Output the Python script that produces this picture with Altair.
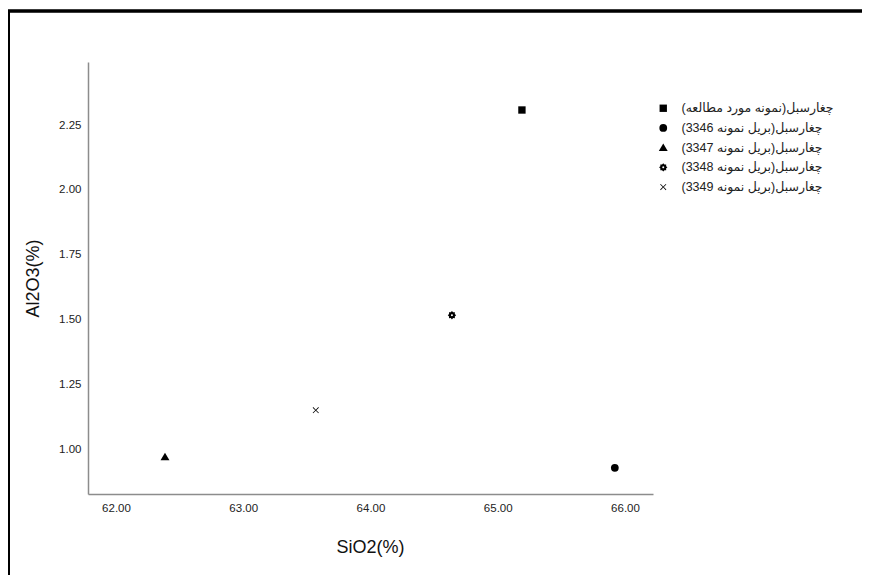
import math
import altair as alt
import pandas as pd

categories = [
    "چغارسبل(نمونه مورد مطالعه)",
    "چغارسبل(بریل نمونه 3346)",
    "چغارسبل(بریل نمونه 3347)",
    "چغارسبل(بریل نمونه 3348)",
    "چغارسبل(بریل نمونه 3349)",
]
sio2 = [65.19, 65.92, 62.385, 64.64, 63.57]
al2o3 = [2.308, 0.929, 0.971, 1.517, 1.151]

x_ticks = [62, 63, 64, 65, 66]
y_ticks = [1.00, 1.25, 1.50, 1.75, 2.00, 2.25]

df = pd.DataFrame({"cat": categories, "SiO2": sio2, "Al2O3": al2o3})

# marker shapes (unit box -1..1)
pts = []
for k in range(16):
    r = 1.08 if k % 2 == 0 else 0.8
    a = k * math.pi / 8
    pts.append((r * math.cos(a), r * math.sin(a)))
gear = "M" + "L".join(f"{x:.3f},{y:.3f}" for x, y in pts) + "Z"
inner = []
for k in range(12):
    a = -k * math.pi / 6
    inner.append((0.26 * math.cos(a), 0.26 * math.sin(a)))
gear += "M" + "L".join(f"{x:.3f},{y:.3f}" for x, y in inner) + "Z"
xshape = ("M-0.8,-0.66L-0.66,-0.8L0,-0.14L0.66,-0.8L0.8,-0.66L0.14,0L0.8,0.66L0.66,0.8"
          "L0,0.14L-0.66,0.8L-0.8,0.66L-0.14,0Z")
square = "M-0.95,-0.95L0.95,-0.95L0.95,0.95L-0.95,0.95Z"
tri = "M0,-1.1L1.15,0.85L-1.15,0.85Z"
shapes = [square, "circle", tri, gear, xshape]

font = "Liberation Sans, Arial, DejaVu Sans, sans-serif"

points = alt.Chart(df).mark_point(filled=True, opacity=1, color="black", size=60).encode(
    x=alt.X("SiO2:Q",
            scale=alt.Scale(domain=[61.78, 66.22], nice=False, zero=False),
            axis=alt.Axis(values=x_ticks, format=".2f", title="SiO2(%)",
                          grid=False, ticks=False, domainColor="#8c8c8c",
                          domainWidth=1.5, labelFont=font, labelFontSize=11.5,
                          labelColor="#222222", labelPadding=8,
                          titleFont=font, titleFontSize=18, titleFontWeight="normal",
                          titleColor="#111111", titleX=282, titleY=53,
                          titleBaseline="middle", titleAlign="center")),
    y=alt.Y("Al2O3:Q",
            scale=alt.Scale(domain=[0.828, 2.493], nice=False, zero=False),
            axis=alt.Axis(values=y_ticks, format=".2f", title="Al2O3(%)",
                          grid=False, ticks=False, domainColor="#8c8c8c",
                          domainWidth=1.5, labelFont=font, labelFontSize=11.5,
                          labelColor="#222222", labelPadding=7,
                          titleFont=font, titleFontSize=18, titleFontWeight="normal",
                          titleColor="#111111", titleX=-55, titleY=216,
                          titleAngle=270, titleBaseline="middle", titleAlign="center")),
    shape=alt.Shape("cat:N",
                    scale=alt.Scale(domain=categories, range=shapes),
                    legend=alt.Legend(title=None, orient="none", legendX=569, legendY=40,
                                      padding=0, labelFont=font, labelFontSize=12.5,
                                      labelColor="#222222", labelOffset=12,
                                      rowPadding=6.7, symbolSize=60,
                                      symbolFillColor="black", symbolStrokeColor="black",
                                      symbolStrokeWidth=0, symbolOpacity=1,
                                      labelLimit=300,
                                      labelExpr="'\u202b' + datum.label + '\u202c'")),
)

border_top = alt.Chart(df).mark_rule(color="black", strokeWidth=2.5).encode(
    x=alt.value(-80), x2=alt.value(780), y=alt.value(-51))
border_left = alt.Chart(df).mark_rule(color="black", strokeWidth=2.5).encode(
    x=alt.value(-79.5), y=alt.value(-52), y2=alt.value(530))

chart = alt.layer(points, border_top, border_left).properties(
    width=565, height=432,
    autosize=alt.AutoSizeParams(type="none"),
    padding={"left": 80, "top": 54, "right": 209, "bottom": 81},
).configure(background="white").configure_view(stroke="transparent", strokeWidth=0)

chart.save("out.html", embed_options={"renderer": "svg", "actions": False})
